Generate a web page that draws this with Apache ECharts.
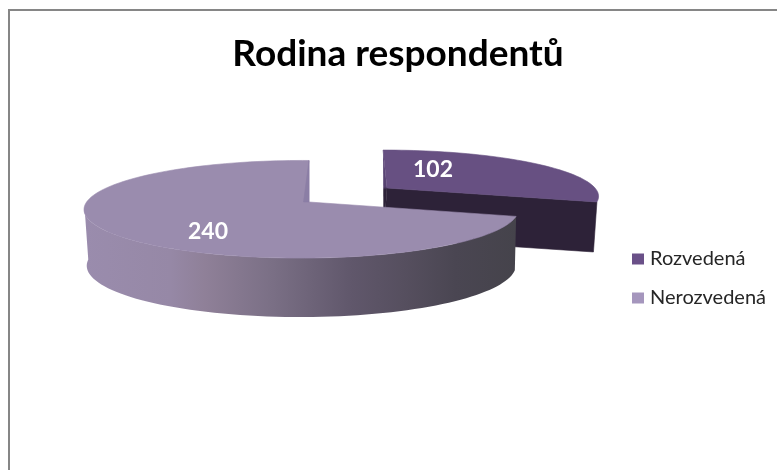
<!DOCTYPE html>
<html>
<head>
<meta charset="utf-8">
<title>Rodina respondentů</title>
<style>
html,body{margin:0;padding:0;background:#fff;}
#main{width:777px;height:470px;}
</style>
<script src="https://cdn.jsdelivr.net/npm/echarts@6/dist/echarts.min.js"></script>
</head>
<body>
<div id="main"></div>
<script type="text/javascript">
var chartTitle = 'Rodina respondentů';
var categories = ['Rozvedená', 'Nerozvedená'];
var values = [102, 240];

var total = values[0] + values[1];

// the old 3d pie: each slice is exploded and has its own perspective
var smallTop = {cx:387, cy:188, a:44, b:205.5, s:4.6, k:0.16, m:0.012};
var smallBottom = {cx:383.5, cy:238, a:44, b:205.5, s:4.6, k:0.16, m:0.012};
var bigTop = {cx:309, cy:202, a:47.7, b:214.6, s:0, k:0.149, m:-0.035};
var bigBottom = {cx:309, cy:255, a:49.6, b:210, s:0, k:0.2, m:-0.035};

// deg is measured clockwise from 12 o'clock
function project(f, deg){
	var t = deg * Math.PI / 180;
	var u = Math.sin(t), v = -Math.cos(t);
	var w = 1 - f.k * v - f.m * u;
	return [f.cx + (f.b * u + f.s * v) / w, f.cy + f.a * v / w];
}
function arc(f, from, to){
	var pts = [];
	var n = Math.ceil(Math.abs(to - from) / 2);
	for(var i = 0; i <= n; i++){
		pts.push(project(f, from + (to - from) * i / n));
	}
	return pts;
}
function poly(points, fill){
	return {type:'polygon', shape:{points:points}, style:{fill:fill, stroke:typeof fill === 'string' ? fill : null, lineWidth:0.6}, silent:true};
}
function label(text, x, y){
	return {type:'text', style:{x:x, y:y, text:text, fill:'#fff', align:'center', verticalAlign:'middle',
		font:'bold 23px Lato'}, silent:true};
}

function renderSmall(params, api){
	var end = 360 * api.value(0) / total;
	var apexTop = [smallTop.cx, smallTop.cy], apexBottom = [smallBottom.cx, smallBottom.cy];
	var rim = project(smallTop, end), rimBottom = project(smallBottom, end);
	var start = project(smallTop, 0);
	return {type:'group', children:[
		poly([apexTop, rim, rimBottom, apexBottom], '#2d2238'),
		poly([start, apexTop, apexBottom], {type:'linear', x:0, y:0, x2:0, y2:1, colorStops:[
			{offset:0, color:'#5f4a7a'}, {offset:0.42, color:'#55416f'}, {offset:0.45, color:'#2d2238'}, {offset:1, color:'#2d2238'}]}),
		poly([apexTop].concat(arc(smallTop, 0, end)), '#675082'),
		label(String(api.value(0)), 433, 170)
	]};
}
function renderBig(params, api){
	var start = 360 * (total - api.value(0)) / total;
	var wallEnd = 265;
	var wall = arc(bigTop, start, wallEnd).concat(arc(bigBottom, wallEnd, start));
	var apex = [bigTop.cx, bigTop.cy];
	var gradient = {type:'linear', global:true, x:84, y:0, x2:516, y2:0, colorStops:[
		{offset:0, color:'#9a8cad'}, {offset:0.2, color:'#9688a6'}, {offset:0.28, color:'#8f8098'},
		{offset:0.43, color:'#7b7086'}, {offset:0.62, color:'#60576b'}, {offset:0.74, color:'#564f5f'},
		{offset:0.86, color:'#4a4652'}, {offset:1, color:'#45434b'}]};
	return {type:'group', children:[
		poly(wall, gradient),
		poly([apex].concat(arc(bigTop, start, 360)), '#9a8cae'),
		poly([project(bigTop, 360), apex, [303.5, 202]], '#8b7ea5'),
		label(String(api.value(0)), 208, 232)
	]};
}

var myChart = echarts.init(document.getElementById('main'), null, {renderer:'canvas'});
myChart.setOption({
	animation:false,
	backgroundColor:'#fff',
	title:{
		text:chartTitle, left:393, top:31, textAlign:'center',
		textStyle:{fontFamily:'Lato', fontWeight:'bold', fontSize:37, color:'#000'}
	},
	legend:{
		orient:'vertical', left:627, top:243, icon:'rect',
		itemWidth:12, itemHeight:11, itemGap:17,
		textStyle:{fontFamily:'Lato', fontSize:20, color:'#262626', padding:[0,0,0,1], lineHeight:22},
		data:categories
	},
	graphic:[
		{type:'line', shape:{x1:9, y1:10, x2:9, y2:470}, style:{stroke:'#868686', lineWidth:2}, silent:true},
		{type:'line', shape:{x1:8, y1:10, x2:777, y2:10}, style:{stroke:'#868686', lineWidth:2}, silent:true}
	],
	series:[
		{name:categories[0], type:'custom', coordinateSystem:'none', renderItem:renderSmall,
			itemStyle:{color:'#6a5088'}, data:[[values[0]]], z:2},
		{name:categories[1], type:'custom', coordinateSystem:'none', renderItem:renderBig,
			itemStyle:{color:'#a596bd'}, data:[[values[1]]], z:3}
	]
});
</script>
</body>
</html>
